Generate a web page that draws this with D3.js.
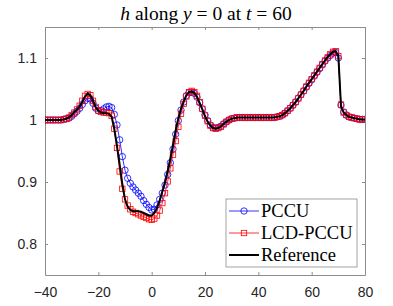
<!DOCTYPE html>
<html>
<head>
  <meta charset="utf-8">
  <script src="https://d3js.org/d3.v7.min.js"></script>
  <style>
  body { margin:0; background:#fff; }
  .tick text { font-family: "Liberation Sans", Arial, sans-serif; font-size: 14px; fill: #262626; }
  .axis path, .axis line { stroke: #8c8c8c; }
  .title, .legend text { font-family: "Liberation Serif", "Times New Roman", serif; fill: #000; }
</style>
</head>
<body>
<script>

  // sampling grid along x (one value per unit)
  var xs = d3.range(-40, 81, 1);

  var refH = [
    1.000, 1.000, 1.000, 1.000, 1.000, 1.000, 1.000,
    1.001, 1.002, 1.004, 1.008, 1.013, 1.017, 1.022, 1.029, 1.038, 1.043,
    1.040, 1.031, 1.021, 1.015, 1.012, 1.011, 1.011, 1.010, 1.005, 0.985,
    0.958, 0.928, 0.897, 0.872, 0.860, 0.855, 0.853, 0.853, 0.853, 0.852,
    0.850, 0.848, 0.846, 0.846, 0.850, 0.858, 0.870, 0.885, 0.900, 0.918,
    0.938, 0.960, 0.983, 1.003, 1.018, 1.030, 1.040, 1.045, 1.046, 1.044,
    1.037, 1.027, 1.017, 1.006, 0.997, 0.991, 0.987, 0.986, 0.987, 0.990,
    0.994, 0.997, 1.000, 1.002, 1.003,
    1.004, 1.004, 1.004, 1.004, 1.004, 1.004, 1.004, 1.004, 1.004, 1.004,
    1.004, 1.004, 1.004, 1.004, 1.004,
    1.005, 1.006, 1.008, 1.011, 1.015, 1.019, 1.024, 1.029, 1.035, 1.041,
    1.047, 1.054, 1.060, 1.066, 1.072, 1.078, 1.084, 1.090, 1.096, 1.102,
    1.106, 1.110, 1.111, 1.104, 1.022, 1.012, 1.008, 1.005, 1.004, 1.003,
    1.002, 1.001, 1.001, 1.001
  ];

  var pccuH = [
    1.000, 1.000, 1.000, 1.000, 1.000, 1.000, 1.000,
    1.001, 1.002, 1.003, 1.006, 1.010, 1.014, 1.019, 1.025, 1.031, 1.035,
    1.034, 1.027, 1.019, 1.015, 1.015, 1.018, 1.021, 1.022, 1.020, 1.009,
    0.992, 0.968, 0.941, 0.919, 0.906, 0.898, 0.892, 0.887, 0.882, 0.877,
    0.870, 0.864, 0.859, 0.855, 0.856, 0.863, 0.872, 0.882, 0.895, 0.912,
    0.931, 0.953, 0.977, 0.999, 1.016, 1.029, 1.039, 1.044, 1.045, 1.043,
    1.037, 1.028, 1.018, 1.008, 0.999, 0.992, 0.988, 0.987, 0.988, 0.990,
    0.994, 0.997, 1.000, 1.002, 1.003,
    1.004, 1.004, 1.004, 1.004, 1.004, 1.004, 1.004, 1.004, 1.004, 1.004,
    1.004, 1.004, 1.004, 1.004, 1.004,
    1.005, 1.006, 1.008, 1.011, 1.015, 1.019, 1.024, 1.029, 1.035, 1.041,
    1.047, 1.053, 1.059, 1.065, 1.071, 1.077, 1.083, 1.089, 1.095, 1.100,
    1.104, 1.108, 1.109, 1.100, 1.024, 1.013, 1.008, 1.005, 1.004, 1.003,
    1.002, 1.001, 1.001, 1.001
  ];

  var lcdH = [
    1.000, 1.000, 1.000, 1.000, 1.000, 1.000, 1.000,
    1.001, 1.002, 1.004, 1.008, 1.012, 1.017, 1.023, 1.031, 1.039, 1.042,
    1.040, 1.031, 1.021, 1.015, 1.013, 1.012, 1.012, 1.011, 1.007, 0.986,
    0.955, 0.917, 0.889, 0.872, 0.862, 0.856, 0.852, 0.850, 0.848, 0.846,
    0.844, 0.842, 0.840, 0.839, 0.841, 0.846, 0.854, 0.866, 0.882, 0.901,
    0.922, 0.944, 0.966, 0.989, 1.010, 1.026, 1.038, 1.045, 1.047, 1.045,
    1.039, 1.029, 1.018, 1.007, 0.998, 0.991, 0.987, 0.986, 0.987, 0.989,
    0.993, 0.997, 1.000, 1.002, 1.003,
    1.004, 1.004, 1.004, 1.004, 1.004, 1.004, 1.004, 1.004, 1.004, 1.004,
    1.004, 1.004, 1.004, 1.004, 1.004,
    1.005, 1.006, 1.008, 1.011, 1.015, 1.019, 1.024, 1.029, 1.035, 1.041,
    1.047, 1.054, 1.060, 1.066, 1.072, 1.078, 1.084, 1.090, 1.096, 1.101,
    1.106, 1.110, 1.111, 1.103, 1.025, 1.012, 1.008, 1.005, 1.004, 1.003,
    1.002, 1.001, 1.001, 1.001
  ];

  var xTicks = [-40, -20, 0, 20, 40, 60, 80];
  var yTicks = [0.8, 0.9, 1, 1.1];
  var seriesNames = ["PCCU", "LCD-PCCU", "Reference"];

  var margin = {top: 27, right: 28, bottom: 31, left: 45},
    width = 393 - margin.left - margin.right,
    height = 306 - margin.top - margin.bottom;

  var svg = d3.select("body").append("svg")
    .attr("width", 393)
    .attr("height", 306);

  var g = svg.append("g")
    .attr("transform", "translate(" + margin.left + "," + margin.top + ")");

  var x = d3.scaleLinear().domain([-40, 80]).range([0, width]);
  var y = d3.scaleLinear().domain([0.75, 1.15]).range([height, 0]);

  g.append("defs").append("clipPath").attr("id", "clip")
    .append("rect").attr("width", width).attr("height", height);

  // axes (box on, ticks inward)
  g.append("g").attr("class", "x axis")
    .attr("transform", "translate(0," + height + ")")
    .call(d3.axisBottom(x).tickValues(xTicks).tickSizeInner(-3).tickSizeOuter(0).tickPadding(9))
    .call(a => a.selectAll("text").attr("dy", "0.95em"));
  g.append("g").attr("class", "x axis")
    .call(d3.axisTop(x).tickValues(xTicks).tickSizeInner(-3).tickSizeOuter(0).tickFormat(""));
  g.append("g").attr("class", "y axis")
    .call(d3.axisLeft(y).tickValues(yTicks).tickSizeInner(-3).tickSizeOuter(0).tickPadding(8).tickFormat(d3.format("")));
  g.append("g").attr("class", "y axis")
    .attr("transform", "translate(" + width + ",0)")
    .call(d3.axisRight(y).tickValues(yTicks).tickSizeInner(-3).tickSizeOuter(0).tickFormat(""));

  var plot = g.append("g").attr("clip-path", "url(#clip)");

  var line = d3.line()
    .x((d, i) => x(xs[i]))
    .y(d => y(d));

  // PCCU
  plot.append("path").datum(pccuH)
    .attr("fill", "none").attr("stroke", "#0000ff").attr("stroke-width", 0.8)
    .attr("d", line);
  plot.selectAll(".pccu").data(pccuH).enter().append("circle")
    .attr("class", "pccu")
    .attr("cx", (d, i) => x(xs[i]))
    .attr("cy", d => y(d))
    .attr("r", 3.2)
    .attr("fill", "none").attr("stroke", "#0000ff").attr("stroke-width", 0.8);

  // LCD-PCCU
  plot.append("path").datum(lcdH)
    .attr("fill", "none").attr("stroke", "#ff0000").attr("stroke-width", 0.8)
    .attr("d", line);
  plot.selectAll(".lcd").data(lcdH).enter().append("rect")
    .attr("class", "lcd")
    .attr("x", (d, i) => x(xs[i]) - 2.7)
    .attr("y", d => y(d) - 2.7)
    .attr("width", 5.4).attr("height", 5.4)
    .attr("fill", "none").attr("stroke", "#ff0000").attr("stroke-width", 0.8);

  // Reference
  plot.append("path").datum(refH)
    .attr("fill", "none").attr("stroke", "#000").attr("stroke-width", 2)
    .attr("d", line);

  // title
  var title = svg.append("text").attr("class", "title")
    .attr("x", margin.left + width / 2 + 1).attr("y", 20)
    .attr("text-anchor", "middle").style("font-size", "19.5px");
  title.append("tspan").style("font-style", "italic").text("h");
  title.append("tspan").text(" along ");
  title.append("tspan").style("font-style", "italic").text("y");
  title.append("tspan").text(" = 0 at ");
  title.append("tspan").style("font-style", "italic").text("t");
  title.append("tspan").text(" = 60");

  // legend
  var lg = svg.append("g").attr("class", "legend").attr("transform", "translate(226,199)");
  lg.append("rect").attr("width", 131).attr("height", 68)
    .attr("fill", "#fff").attr("stroke", "#8c8c8c").attr("stroke-width", 0.8);
  var colors = ["#0000ff", "#ff0000", "#000"];
  seriesNames.forEach(function(name, i) {
    var ly = 12 + i * 22;
    lg.append("line").attr("x1", 3).attr("x2", 33).attr("y1", ly).attr("y2", ly)
      .attr("stroke", colors[i]).attr("stroke-width", i === 2 ? 2 : 0.8);
    if (i === 0) {
      lg.append("circle").attr("cx", 18).attr("cy", ly).attr("r", 3.2)
        .attr("fill", "none").attr("stroke", colors[i]).attr("stroke-width", 0.8);
    } else if (i === 1) {
      lg.append("rect").attr("x", 15.3).attr("y", ly - 2.7).attr("width", 5.4).attr("height", 5.4)
        .attr("fill", "none").attr("stroke", colors[i]).attr("stroke-width", 0.8);
    }
    lg.append("text").attr("x", 35).attr("y", ly).attr("dy", "0.35em")
      .style("font-size", "18.5px").text(name);
  });

</script>
</body>
</html>
